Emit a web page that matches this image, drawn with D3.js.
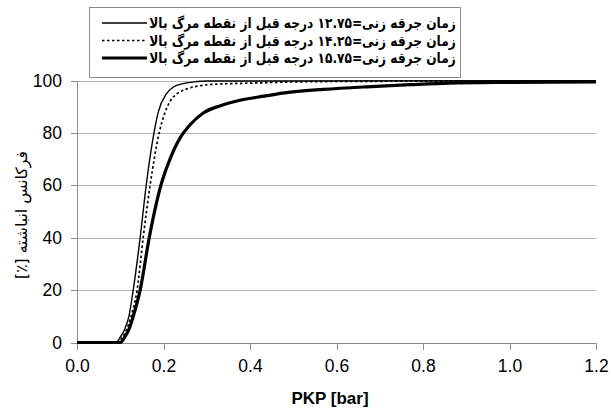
<!DOCTYPE html>
<html>
<head>
<meta charset="utf-8">
<style>
  body { margin: 0; background: #fff; }
  .grid line { stroke: #b3b3b3; stroke-width: 1px; }
  .axis path, .axis line { stroke: #8c8c8c; shape-rendering: crispEdges; }
  .axis text { font-family: "Liberation Sans", Arial, sans-serif; font-size: 17.5px; fill: #000; }
  .curve { fill: none; stroke: #000; }
  .fa { font-family: "DejaVu Sans", sans-serif; }
</style>
</head>
<body>
<div id="chart"></div>
<script src="https://cdn.jsdelivr.net/npm/d3@7"></script>
<script>
  var width = 612, height = 409;

  // x ticks / y ticks
  var xTicks = [0, 0.2, 0.4, 0.6, 0.8, 1.0, 1.2];
  var yTicks = [0, 20, 40, 60, 80, 100];

  // series: spark timing 12.75 deg BTDC
  var x1275 = [0, 0.09, 0.10, 0.11, 0.12, 0.13, 0.146, 0.160, 0.178, 0.188, 0.207, 0.223, 0.245, 0.277, 0.30, 1.2];
  var y1275 = [0, 0, 2, 5, 10, 20, 40, 60, 80, 88, 95, 97.5, 98.8, 99.6, 99.8, 99.9];
  // 14.25 deg BTDC
  var x1425 = [0, 0.095, 0.105, 0.115, 0.125, 0.139, 0.153, 0.169, 0.190, 0.215, 0.230, 0.254, 0.284, 0.323, 0.40, 0.516, 0.7, 1.2];
  var y1425 = [0, 0, 2, 5, 10, 20, 40, 60, 80, 92, 94.8, 96.8, 98.0, 98.6, 99.0, 99.5, 99.7, 99.8];
  // 15.75 deg BTDC
  var x1575 = [0, 0.10, 0.11, 0.12, 0.13, 0.146, 0.167, 0.194, 0.215, 0.238, 0.261, 0.291, 0.33, 0.37, 0.42, 0.48, 0.57, 0.67, 0.77, 0.86, 1.0, 1.2];
  var y1575 = [0, 0, 2, 5, 10, 20, 40, 60, 70, 78, 83, 87.5, 90.3, 92.2, 93.7, 95.3, 96.6, 97.6, 98.4, 99.0, 99.3, 99.5];

  var legendLabels = [
    "زمان جرقه زنی=۱۲.۷۵ درجه قبل از نقطه مرگ بالا",
    "زمان جرقه زنی=۱۴.۲۵ درجه قبل از نقطه مرگ بالا",
    "زمان جرقه زنی=۱۵.۷۵ درجه قبل از نقطه مرگ بالا"
  ];

  var series = [
    {xs: x1275, ys: y1275, width: 1.4, dash: null},
    {xs: x1425, ys: y1425, width: 1.7, dash: "2.5,2.5"},
    {xs: x1575, ys: y1575, width: 3.2, dash: null}
  ];

  var x = d3.scaleLinear().domain([0, 1.2]).range([77, 596]);
  var y = d3.scaleLinear().domain([0, 100]).range([342.5, 80.5]);

  var svg = d3.select("#chart").append("svg")
      .attr("width", width)
      .attr("height", height);

  // grid
  svg.append("g").attr("class", "grid")
    .selectAll("line").data(yTicks.slice(1)).enter().append("line")
      .attr("x1", x(0)).attr("x2", x(1.2))
      .attr("y1", function(d){ return Math.round(y(d)) + 0.5; })
      .attr("y2", function(d){ return Math.round(y(d)) + 0.5; });

  svg.append("g").attr("class", "axis")
      .attr("transform", "translate(0," + y(0) + ")")
      .call(d3.axisBottom(x).tickValues(xTicks).tickFormat(d3.format(".1f")).tickSize(7).tickPadding(10).tickSizeOuter(0));

  svg.append("g").attr("class", "axis")
      .attr("transform", "translate(" + x(0) + ",0)")
      .call(d3.axisLeft(y).tickValues(yTicks).tickSize(6).tickPadding(9).tickSizeOuter(0));

  // curves
  var line = d3.line()
      .x(function(d){ return x(d[0]); })
      .y(function(d){ return y(d[1]); })
      .curve(d3.curveMonotoneX);

  series.forEach(function(s){
    var pts = s.xs.map(function(v, i){ return [v, s.ys[i]]; });
    svg.append("path")
      .attr("class", "curve")
      .attr("d", line(pts))
      .attr("stroke-width", s.width)
      .attr("stroke-dasharray", s.dash);
  });

  // fit a text element to a target width by adjusting its font size
  function fit(sel, size, target) {
    var len = sel.node().getComputedTextLength();
    if (len > 0) sel.style("font-size", (size * target / len) + "px");
  }

  // axis titles
  svg.append("text")
      .attr("x", 330).attr("y", 404)
      .attr("text-anchor", "middle")
      .style("font-family", "'Liberation Sans', Arial, sans-serif")
      .style("font-weight", "bold")
      .style("font-size", "17px")
      .text("PKP [bar]");

  var ylab = svg.append("text")
      .attr("class", "fa")
      .attr("direction", "rtl")
      .attr("transform", "translate(27,215) rotate(-90)")
      .attr("text-anchor", "middle")
      .style("font-size", "15px")
      .text("فرکانس انباشته [٪]");
  fit(ylab, 15, 128);

  // legend
  var lg = svg.append("g");
  lg.append("rect")
      .attr("x", 89.5).attr("y", 7.5)
      .attr("width", 371).attr("height", 70)
      .attr("fill", "#fff").attr("stroke", "#8c8c8c");

  var rowY = [23, 40.5, 58];
  legendLabels.forEach(function(t, i){
    lg.append("line")
      .attr("x1", 102).attr("x2", 147)
      .attr("y1", rowY[i]).attr("y2", rowY[i])
      .attr("stroke", "#000")
      .attr("stroke-width", series[i].width)
      .attr("stroke-dasharray", series[i].dash);
    var tx = lg.append("text")
      .attr("class", "fa")
      .attr("direction", "rtl")
      .attr("x", 0).attr("y", 0)
      .attr("text-anchor", "middle")
      .style("font-weight", "bold")
      .style("font-size", "14.5px")
      .text(t);
    // squeeze horizontally so the taller text still fits the box
    var len = tx.node().getComputedTextLength();
    var sx = len > 0 ? 307 / len : 1;
    tx.attr("transform", "translate(302.5," + (rowY[i] + 5) + ") scale(" + sx + ",1)");
  });
</script>
</body>
</html>
